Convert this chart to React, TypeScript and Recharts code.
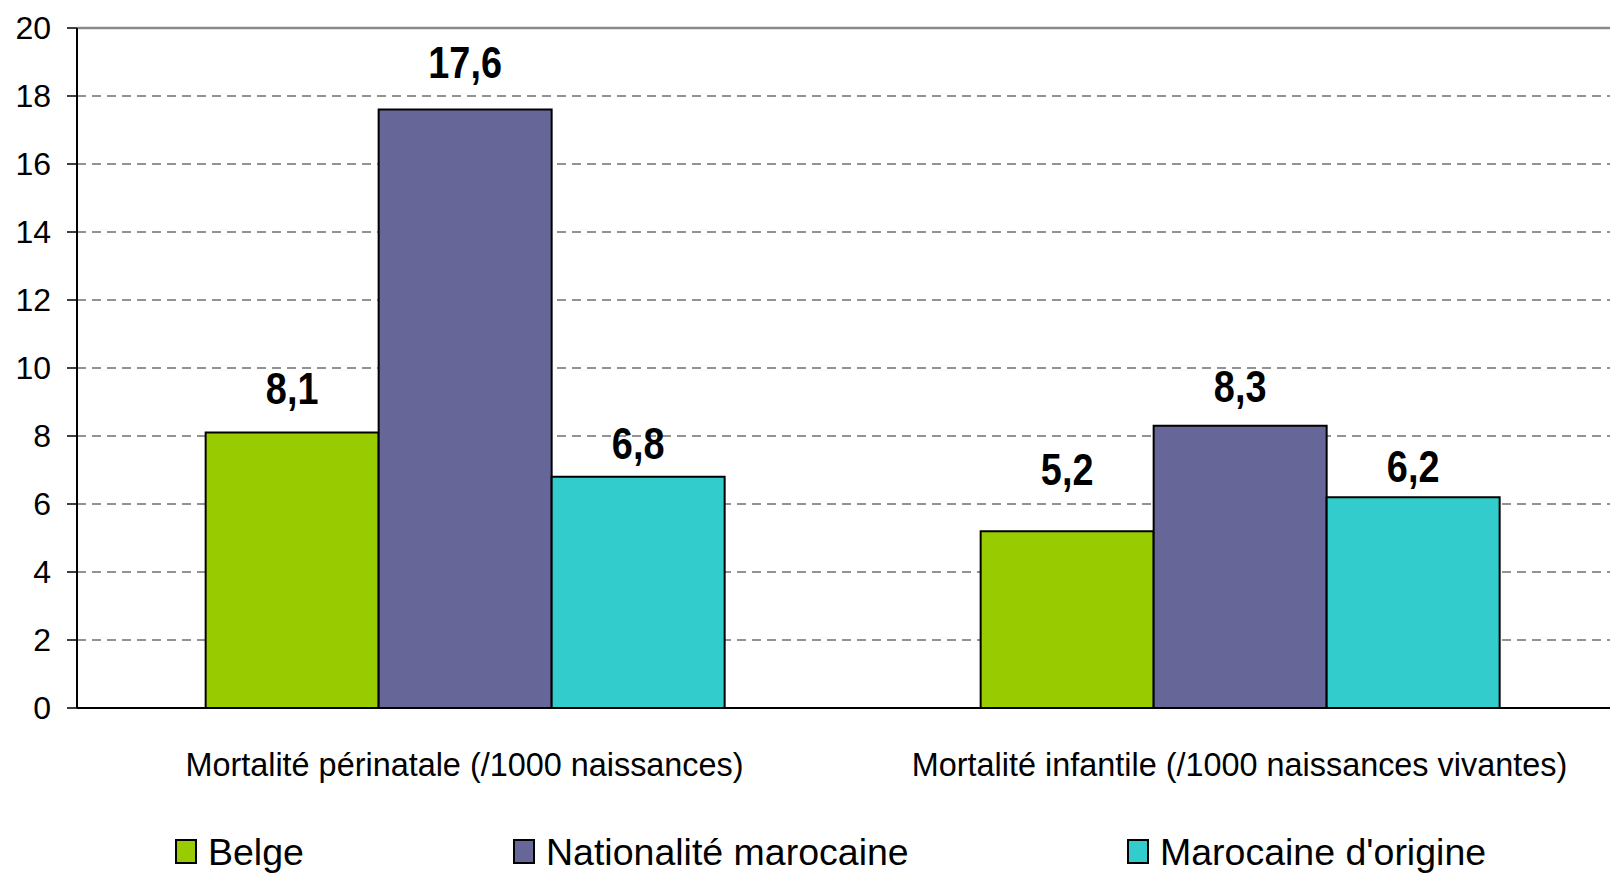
import { BarChart, Bar, XAxis, YAxis, CartesianGrid, ReferenceLine, LabelList } from "recharts";

// categories and values
const categories = [
    "Mortalité périnatale (/1000 naissances)",
    "Mortalité infantile (/1000 naissances vivantes)",
];
const belge = [8.1, 5.2];
const nationaliteMarocaine = [17.6, 8.3];
const marocaineOrigine = [6.8, 6.2];
const yTicks = [0, 2, 4, 6, 8, 10, 12, 14, 16, 18, 20];

const SERIES = [
    { key: "belge", name: "Belge", color: "#99cc00", values: belge },
    { key: "nat", name: "Nationalité marocaine", color: "#666699", values: nationaliteMarocaine },
    { key: "orig", name: "Marocaine d'origine", color: "#33cccc", values: marocaineOrigine },
];

// layout only: the labels sit a bit differently above each bar in the original
const LABEL_LIFT: Record<string, number[]> = {
    belge: [29, 46],
    nat: [32, 24],
    orig: [18, 15],
};
const LEGEND_LEFT = [175, 513, 1127];

const FONT = "'Liberation Sans', Arial, sans-serif";

const data = categories.map((name, i) => {
    const row: Record<string, string | number> = { name };
    SERIES.forEach((s) => {
        row[s.key] = s.values[i];
    });
    return row;
});

const fmt = (v: number) => v.toFixed(1).replace(".", ",");

// bold, slightly condensed value labels
const makeLabel = (seriesKey: string) => (props: any) => {
    const { x, y, width, value, index } = props;
    const cx = Number(x) + Number(width) / 2;
    const cy = Number(y) - LABEL_LIFT[seriesKey][index];
    return (
        <text
            transform={`translate(${cx},${cy}) scale(0.86,1)`}
            x={0}
            y={0}
            textAnchor="middle"
            fontFamily={FONT}
            fontWeight="bold"
            fontSize={44}
            fill="#000"
        >
            {fmt(Number(value))}
        </text>
    );
};

const CategoryTick = (props: any) => {
    const { x, y, payload } = props;
    return (
        <text x={x} y={y + 68} textAnchor="middle" fontFamily={FONT} fontSize={32.4} fill="#000">
            {payload.value}
        </text>
    );
};

export default function App() {
    return (
        <div
            style={{
                position: "absolute",
                left: 0,
                top: 0,
                width: 1610,
                height: 873,
                overflow: "hidden",
                background: "#fff",
            }}
        >
            <BarChart
                width={1640}
                height={873}
                data={data}
                margin={{ top: 28, right: 13, left: 0, bottom: 0 }}
                barGap={0}
                barCategoryGap="16.6%"
            >
                <CartesianGrid
                    vertical={false}
                    stroke="#707070"
                    strokeWidth={1.5}
                    strokeDasharray="9 6"
                />
                <ReferenceLine y={20} stroke="#8a8a8a" strokeWidth={2.5} />
                <XAxis
                    dataKey="name"
                    height={165}
                    axisLine={{ stroke: "#000", strokeWidth: 2 }}
                    tickLine={false}
                    tickSize={0}
                    tickMargin={0}
                    interval={0}
                    tick={<CategoryTick />}
                />
                <YAxis
                    width={77}
                    domain={[0, 20]}
                    ticks={yTicks}
                    interval={0}
                    axisLine={{ stroke: "#000", strokeWidth: 2 }}
                    tickLine={{ stroke: "#000", strokeWidth: 1.5 }}
                    tickSize={10}
                    tickMargin={16}
                    tick={{ fontFamily: FONT, fontSize: 32, fill: "#000" }}
                />
                {SERIES.map((s) => (
                    <Bar
                        key={s.key}
                        dataKey={s.key}
                        name={s.name}
                        fill={s.color}
                        stroke="#000"
                        strokeWidth={2}
                        isAnimationActive={false}
                    >
                        <LabelList dataKey={s.key} content={makeLabel(s.key)} />
                    </Bar>
                ))}
            </BarChart>

            {SERIES.map((s, i) => (
                <div
                    key={s.key}
                    style={{
                        position: "absolute",
                        left: LEGEND_LEFT[i],
                        top: 834,
                        display: "flex",
                        alignItems: "flex-start",
                        fontFamily: FONT,
                        fontSize: 37.5,
                        lineHeight: "37px",
                        color: "#000",
                        whiteSpace: "nowrap",
                    }}
                >
                    <div
                        style={{
                            width: 22,
                            height: 25,
                            marginTop: 5,
                            boxSizing: "border-box",
                            border: "2px solid #000",
                            background: s.color,
                        }}
                    />
                    <span style={{ marginLeft: 11 }}>{s.name}</span>
                </div>
            ))}
        </div>
    );
}
